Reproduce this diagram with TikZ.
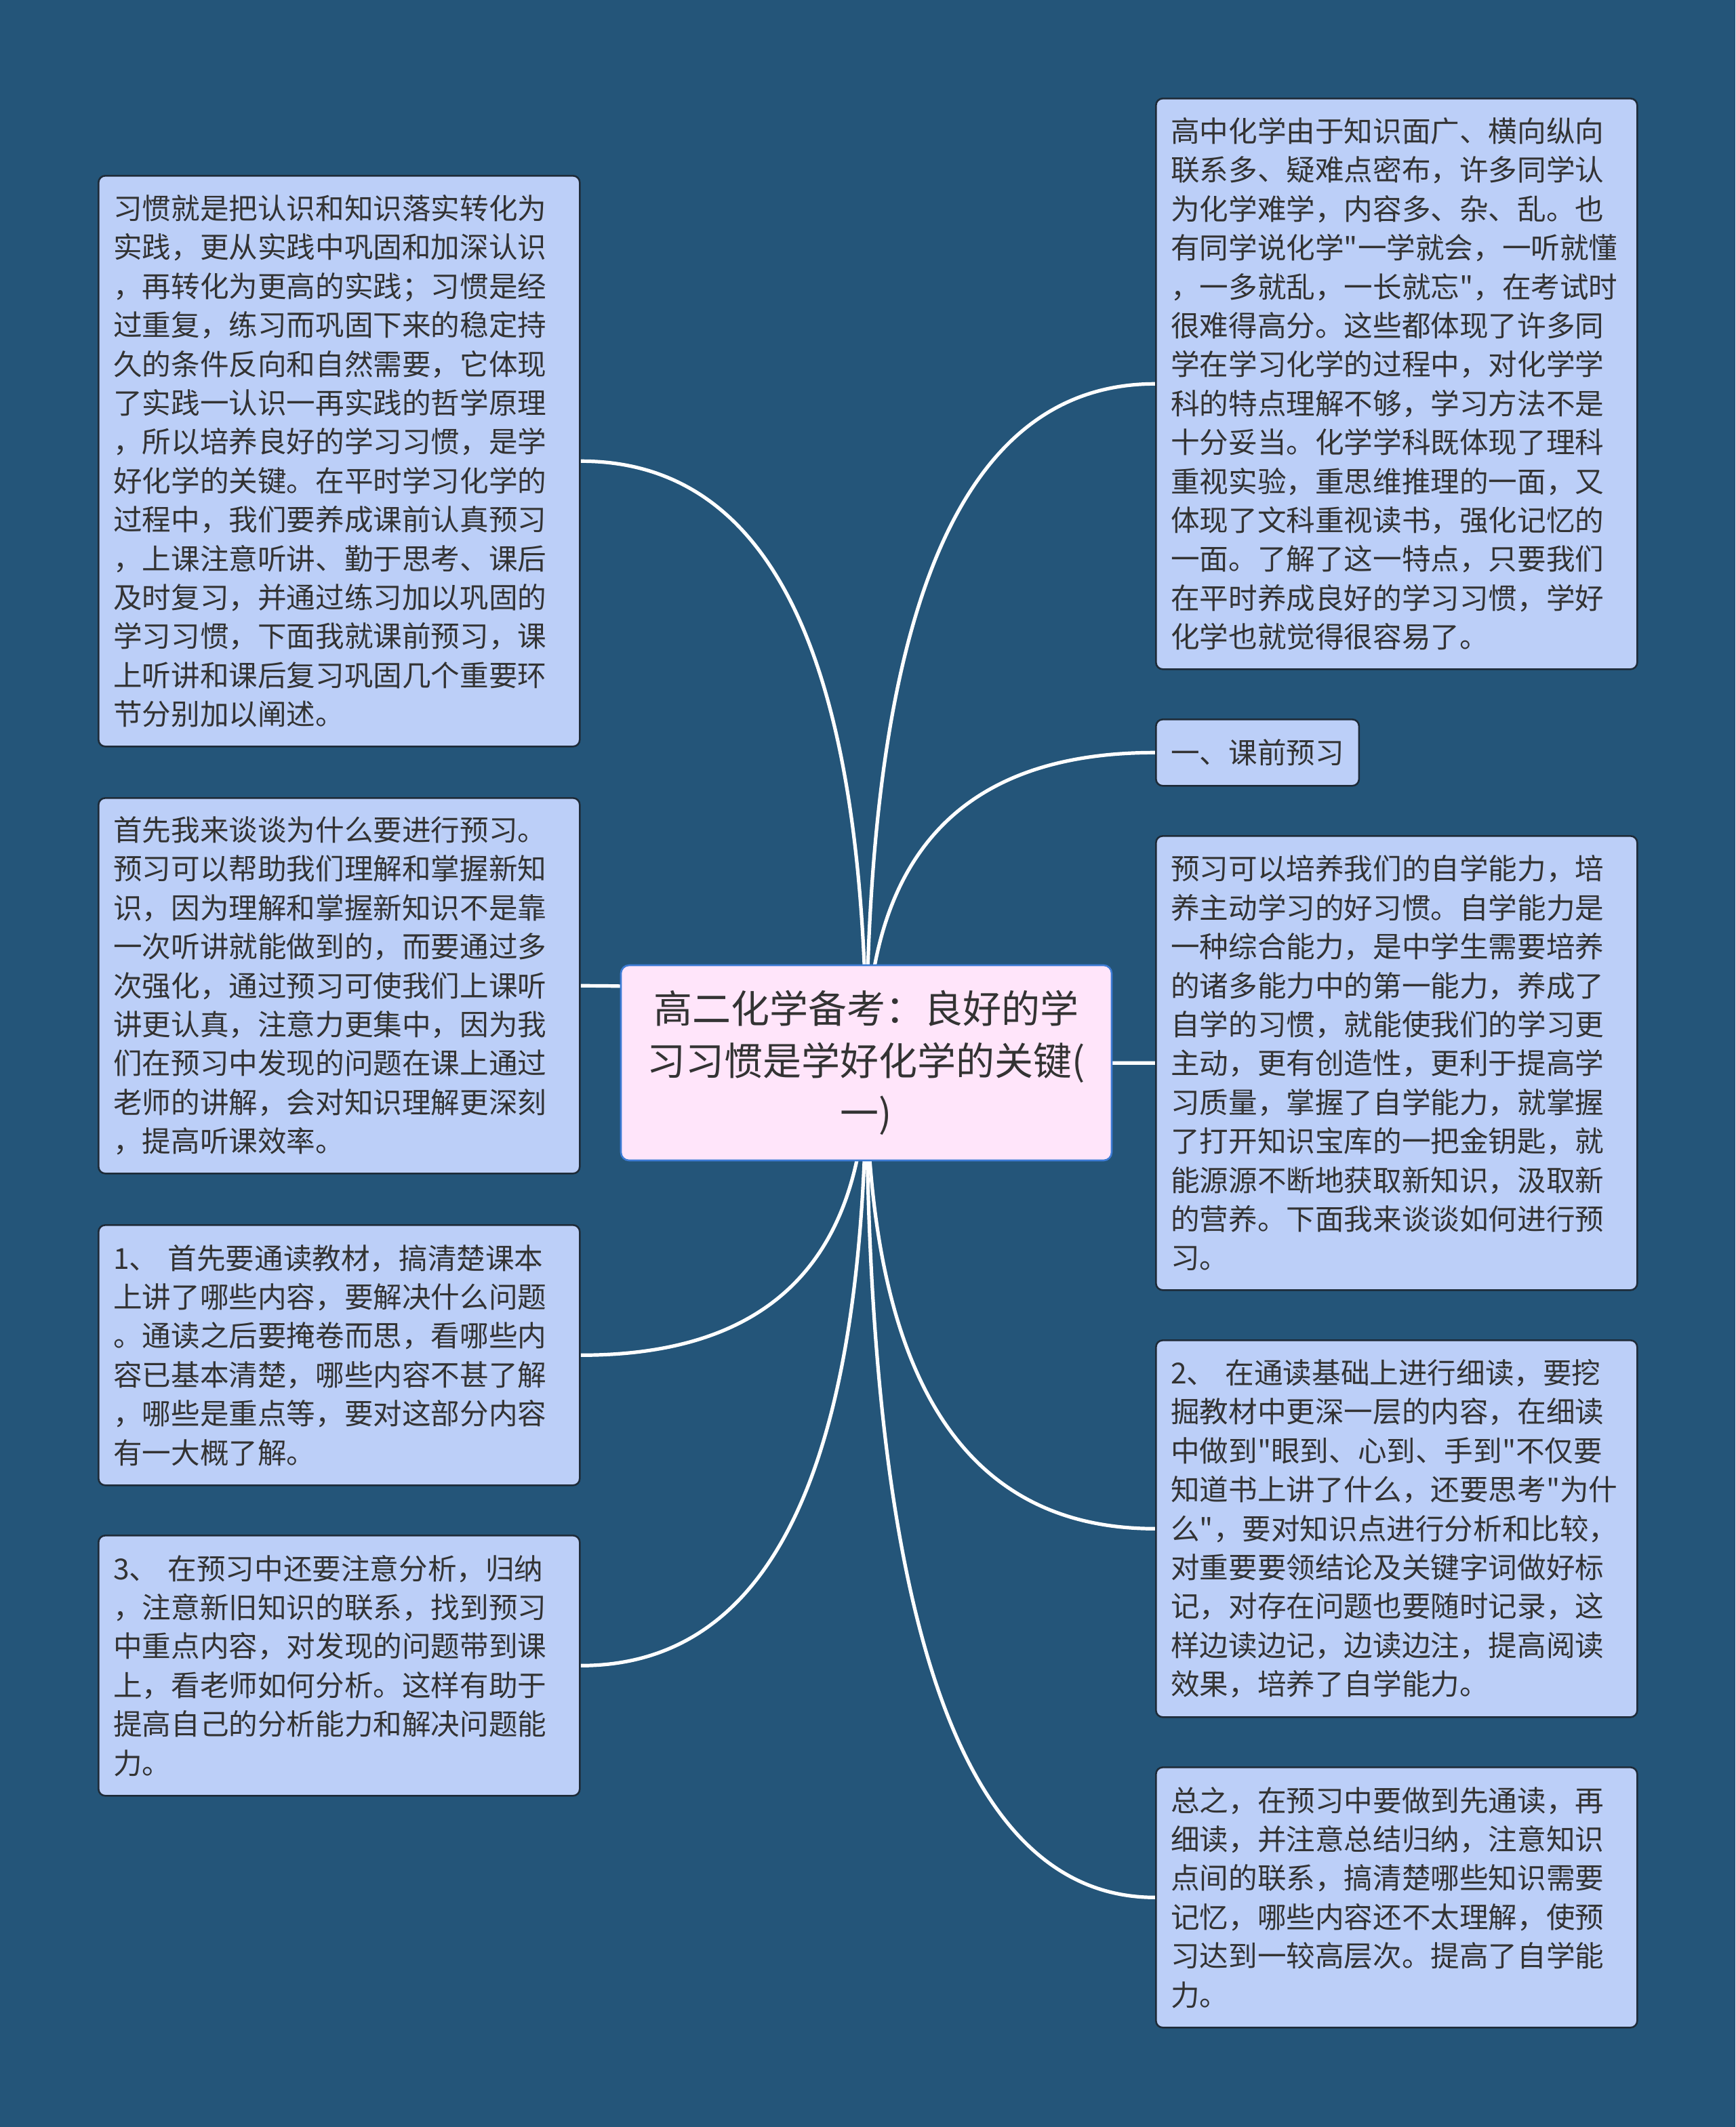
\documentclass[tikz,border=0pt]{standalone}
\usepackage{fontspec}
\newfontfamily\cjkfont{Noto Sans CJK SC}
\usetikzlibrary{calc,positioning}
\definecolor{bgblue}{HTML}{245579}
\definecolor{leaffill}{HTML}{BCCFF8}
\definecolor{leafline}{HTML}{1E2B38}
\definecolor{rootfill}{HTML}{FFE5FA}
\definecolor{rootline}{HTML}{3C7BD4}
\definecolor{inkgray}{HTML}{333333}
\pgfdeclarelayer{bg}
\pgfsetlayers{bg,main}
\newcommand{\leaffont}{\cjkfont\fontsize{21.3pt}{28.7pt}\selectfont}
\newcommand{\rootfont}{\cjkfont\fontsize{28.5pt}{38.5pt}\selectfont}

\begin{document}
\begin{tikzpicture}[x=1pt,y=1pt]
  \tikzset{
    leaf/.style={draw=leafline,fill=leaffill,line width=1.3pt,rounded corners=5pt,
      anchor=north west,align=left,text=inkgray,inner xsep=11pt,inner ysep=2pt,
      font=\leaffont},
    wideleaf/.style={leaf,text width=333pt},
    root/.style={draw=rootline,fill=rootfill,line width=1.3pt,rounded corners=6pt,
      align=center,text=inkgray,text width=326pt,inner xsep=18pt,inner ysep=2pt,
      minimum height=144pt,font=\rootfont},
    link/.style={draw=white,line width=2.6pt}
  }
  \useasboundingbox (0,0) rectangle (1280,-1569);

  % centre topic
  \node[root] (root) at (639,-784)
    {高二化学备考：良好的学\\习习惯是学好化学的关键(\\一)};

  % left column
  \node[wideleaf,minimum height=421pt] (habit) at (72,-129)
    {习惯就是把认识和知识落实转化为\\实践，更从实践中巩固和加深认识\\，再转化为更高的实践；习惯是经\\过重复，练习而巩固下来的稳定持\\久的条件反向和自然需要，它体现\\了实践一认识一再实践的哲学原理\\，所以培养良好的学习习惯，是学\\好化学的关键。在平时学习化学的\\过程中，我们要养成课前认真预习\\，上课注意听讲、勤于思考、课后\\及时复习，并通过练习加以巩固的\\学习习惯，下面我就课前预习，课\\上听讲和课后复习巩固几个重要环\\节分别加以阐述。};
  \node[wideleaf,minimum height=277pt] (why) at (72,-588)
    {首先我来谈谈为什么要进行预习。\\预习可以帮助我们理解和掌握新知\\识，因为理解和掌握新知识不是靠\\一次听讲就能做到的，而要通过多\\次强化，通过预习可使我们上课听\\讲更认真，注意力更集中，因为我\\们在预习中发现的问题在课上通过\\老师的讲解，会对知识理解更深刻\\，提高听课效率。};
  \node[wideleaf,minimum height=192pt] (readfirst) at (72,-903)
    {1、 首先要通读教材，搞清楚课本\\上讲了哪些内容，要解决什么问题\\。通读之后要掩卷而思，看哪些内\\容已基本清楚，哪些内容不甚了解\\，哪些是重点等，要对这部分内容\\有一大概了解。};
  \node[wideleaf,minimum height=192pt] (analyse) at (72,-1132)
    {3、 在预习中还要注意分析，归纳\\，注意新旧知识的联系，找到预习\\中重点内容，对发现的问题带到课\\上，看老师如何分析。这样有助于\\提高自己的分析能力和解决问题能\\力。};

  % right column
  \node[wideleaf,minimum height=421pt] (intro) at (852,-72)
    {高中化学由于知识面广、横向纵向\\联系多、疑难点密布，许多同学认\\为化学难学，内容多、杂、乱。也\\有同学说化学"一学就会，一听就懂\\，一多就乱，一长就忘"，在考试时\\很难得高分。这些都体现了许多同\\学在学习化学的过程中，对化学学\\科的特点理解不够，学习方法不是\\十分妥当。化学学科既体现了理科\\重视实验，重思维推理的一面，又\\体现了文科重视读书，强化记忆的\\一面。了解了这一特点，只要我们\\在平时养成良好的学习习惯，学好\\化学也就觉得很容易了。};
  \node[leaf,minimum height=49pt] (preview) at (852,-530) {一、课前预习};
  \node[wideleaf,minimum height=335pt] (selfstudy) at (852,-616)
    {预习可以培养我们的自学能力，培\\养主动学习的好习惯。自学能力是\\一种综合能力，是中学生需要培养\\的诸多能力中的第一能力，养成了\\自学的习惯，就能使我们的学习更\\主动，更有创造性，更利于提高学\\习质量，掌握了自学能力，就掌握\\了打开知识宝库的一把金钥匙，就\\能源源不断地获取新知识，汲取新\\的营养。下面我来谈谈如何进行预\\习。};
  \node[wideleaf,minimum height=278pt] (readdeep) at (852,-988)
    {2、 在通读基础上进行细读，要挖\\掘教材中更深一层的内容，在细读\\中做到"眼到、心到、手到"不仅要\\知道书上讲了什么，还要思考"为什\\么"，要对知识点进行分析和比较，\\对重要要领结论及关键字词做好标\\记，对存在问题也要随时记录，这\\样边读边记，边读边注，提高阅读\\效果，培养了自学能力。};
  \node[wideleaf,minimum height=192pt] (summary) at (852,-1303)
    {总之，在预习中要做到先通读，再\\细读，并注意总结归纳，注意知识\\点间的联系，搞清楚哪些知识需要\\记忆，哪些内容还不太理解，使预\\习达到一较高层次。提高了自学能\\力。};

  \begin{pgfonlayer}{bg}
    \fill[bgblue] (0,0) rectangle (1280,-1569);
    % curved branches out of the centre
    \foreach \n in {habit,why,readfirst,analyse}
      \draw[link] (root.center) .. controls ($(root.center)!0.67!(root.center |- \n.east)$)
        and ($(\n.east)!0.67!(root.center |- \n.east)$) .. (\n.east);
    \foreach \n in {intro,preview,selfstudy,readdeep,summary}
      \draw[link] (root.center) .. controls ($(root.center)!0.67!(root.center |- \n.west)$)
        and ($(\n.west)!0.67!(root.center |- \n.west)$) .. (\n.west);
  \end{pgfonlayer}
\end{tikzpicture}
\end{document}
